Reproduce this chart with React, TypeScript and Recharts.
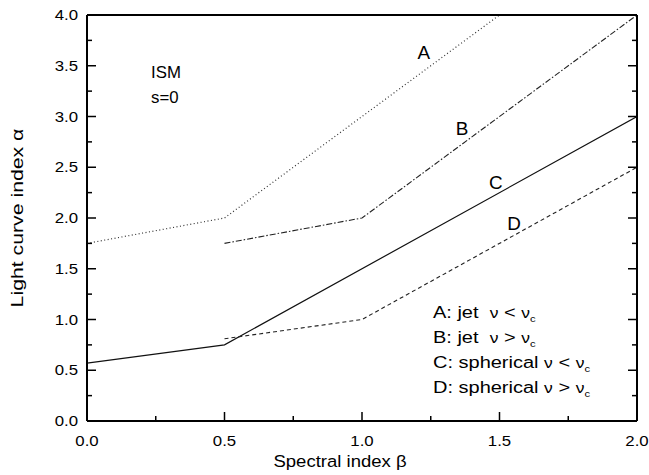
import { LineChart, Line, XAxis, YAxis, ReferenceDot } from 'recharts';

// light curve index alpha vs spectral index beta, ISM (s=0)
const betaA = [0, 0.5, 1.5];
const alphaA = [1.75, 2.0, 4.0];
const betaB = [0.5, 1.0, 2.0];
const alphaB = [1.75, 2.0, 4.0];
const betaC = [0, 0.5, 2.0];
const alphaC = [0.57, 0.75, 3.0];
const betaD = [0.5, 1.0, 2.0];
const alphaD = [0.81, 1.0, 2.5];

const xTicks = [0, 0.25, 0.5, 0.75, 1, 1.25, 1.5, 1.75, 2];
const yTicks = [0, 0.25, 0.5, 0.75, 1, 1.25, 1.5, 1.75, 2, 2.25, 2.5, 2.75, 3, 3.25, 3.5, 3.75, 4];

// curve letters, placed in data coordinates
const curveLabels = ['A', 'B', 'C', 'D'];
const curveLabelX = [1.225, 1.364, 1.487, 1.553];
const curveLabelY = [3.63, 2.88, 2.345, 1.95];

const legendPrefix = ['A: jet  ', 'B: jet  ', 'C: spherical ', 'D: spherical '];
const legendRel = ['<', '>', '<', '>'];
const legendY = [1.074, 0.828, 0.581, 0.335];
const legendX = 1.258;

const toPoints = (xs: number[], ys: number[]) => xs.map((x, i) => ({ x, y: ys[i] }));

const dataA = toPoints(betaA, alphaA);
const dataB = toPoints(betaB, alphaB);
const dataC = toPoints(betaC, alphaC);
const dataD = toPoints(betaD, alphaD);

const isMajor = (v: number) => Math.abs(v * 2 - Math.round(v * 2)) < 1e-6;
const FONT = '"Liberation Sans", Arial, Helvetica, sans-serif';

// text that is a bit wider than Arial, like the original plot
const SText = ({ x, y, sx = 1, anchor = 'start', size, rotate, children, style }: any) => (
  <text
    transform={`translate(${x} ${y})${rotate ? ` rotate(${rotate})` : ''} scale(${sx} 1)`}
    textAnchor={anchor}
    fontSize={size}
    fill="#000"
    style={style}
  >
    {children}
  </text>
);

const BottomTick = ({ x, y, payload }: any) => {
  const major = isMajor(payload.value);
  return (
    <g>
      <line x1={x} x2={x} y1={y} y2={y - (major ? 9 : 5)} stroke="#000" strokeWidth={1.5} />
      {major && (
        <SText x={x} y={y + 25} anchor="middle" size={14} sx={1.2}>
          {payload.value.toFixed(1)}
        </SText>
      )}
    </g>
  );
};

const TopTick = ({ x, y, payload }: any) => {
  const major = isMajor(payload.value);
  return <line x1={x} x2={x} y1={y} y2={y + (major ? 9 : 5)} stroke="#000" strokeWidth={1.5} />;
};

const LeftTick = ({ x, y, payload }: any) => {
  const major = isMajor(payload.value);
  return (
    <g>
      <line x1={x} x2={x + (major ? 9 : 5)} y1={y} y2={y} stroke="#000" strokeWidth={1.5} />
      {major && (
        <SText x={x - 9} y={y + 5} anchor="end" size={14} sx={1.2}>
          {payload.value.toFixed(1)}
        </SText>
      )}
    </g>
  );
};

const RightTick = ({ x, y, payload }: any) => {
  const major = isMajor(payload.value);
  return <line x1={x} x2={x - (major ? 9 : 5)} y1={y} y2={y} stroke="#000" strokeWidth={1.5} />;
};

const center = (vb: any) => ({ cx: vb.x + vb.width / 2, cy: vb.y + vb.height / 2 });

export default function App() {
  return (
    <div style={{ position: 'absolute', left: 0, top: 0, width: 649, height: 475, background: '#fff', fontFamily: FONT }}>
      <LineChart width={649} height={475} margin={{ top: 0, right: 0, bottom: 0, left: 0 }}>
        <XAxis
          xAxisId={0}
          type="number"
          dataKey="x"
          domain={[0, 2]}
          ticks={xTicks}
          height={54}
          tickSize={0}
          tickMargin={0}
          tickLine={false}
          tick={<BottomTick />}
          axisLine={{ stroke: '#000', strokeWidth: 2 }}
          interval={0}
          allowDataOverflow
          label={{
            content: ({ viewBox }: any) => (
              <SText x={viewBox.x + viewBox.width / 2 - 22} y={viewBox.y + 46} anchor="middle" size={17} sx={1.09}>
                Spectral index β
              </SText>
            ),
          }}
        />
        <XAxis
          xAxisId="top"
          orientation="top"
          type="number"
          domain={[0, 2]}
          ticks={xTicks}
          height={15}
          tickSize={0}
          tickMargin={0}
          tickLine={false}
          tick={<TopTick />}
          axisLine={{ stroke: '#000', strokeWidth: 2 }}
          interval={0}
          allowDataOverflow
        />
        <YAxis
          yAxisId={0}
          type="number"
          domain={[0, 4]}
          ticks={yTicks}
          width={87}
          tickSize={0}
          tickMargin={0}
          tickLine={false}
          tick={<LeftTick />}
          axisLine={{ stroke: '#000', strokeWidth: 2 }}
          interval={0}
          allowDataOverflow
          label={{
            content: ({ viewBox }: any) => (
              <SText x={23} y={viewBox.y + viewBox.height / 2} rotate={-90} anchor="middle" size={17} sx={1.25}>
                Light curve index α
              </SText>
            ),
          }}
        />
        <YAxis
          yAxisId="right"
          orientation="right"
          type="number"
          domain={[0, 4]}
          ticks={yTicks}
          width={12}
          tickSize={0}
          tickMargin={0}
          tickLine={false}
          tick={<RightTick />}
          axisLine={{ stroke: '#000', strokeWidth: 2 }}
          interval={0}
          allowDataOverflow
        />

        <Line data={dataA} dataKey="y" type="linear" stroke="#333" strokeWidth={1.2} strokeDasharray="1 2.5" dot={false} isAnimationActive={false} />
        <Line data={dataB} dataKey="y" type="linear" stroke="#222" strokeWidth={1.1} strokeDasharray="6 2 1.5 2" dot={false} isAnimationActive={false} />
        <Line data={dataC} dataKey="y" type="linear" stroke="#111" strokeWidth={1.2} dot={false} isAnimationActive={false} />
        <Line data={dataD} dataKey="y" type="linear" stroke="#222" strokeWidth={1.1} strokeDasharray="4 3" dot={false} isAnimationActive={false} />

        {curveLabels.map((t, i) => (
          <ReferenceDot
            key={t}
            x={curveLabelX[i]}
            y={curveLabelY[i]}
            r={1}
            fill="none"
            stroke="none"
            label={{
              content: ({ viewBox }: any) => {
                const { cx, cy } = center(viewBox);
                return (
                  <SText x={cx} y={cy + 6.5} anchor="middle" size={18} sx={1.05}>
                    {t}
                  </SText>
                );
              },
            }}
          />
        ))}

        <ReferenceDot
          x={0.233}
          y={3.44}
          r={1}
          fill="none"
          stroke="none"
          label={{
            content: ({ viewBox }: any) => {
              const { cx, cy } = center(viewBox);
              return (
                <SText x={cx} y={cy + 6} size={16} sx={1.05}>
                  <tspan x={0}>ISM</tspan>
                  <tspan x={0} dy={25}>s=0</tspan>
                </SText>
              );
            },
          }}
        />

        {legendPrefix.map((p, i) => (
          <ReferenceDot
            key={p}
            x={legendX}
            y={legendY[i]}
            r={1}
            fill="none"
            stroke="none"
            label={{
              content: ({ viewBox }: any) => {
                const { cx, cy } = center(viewBox);
                return (
                  <SText x={cx} y={cy + 6} size={16} sx={1.25} style={{ whiteSpace: 'pre' }}>
                    <tspan>{p}</tspan>
                    <tspan fontSize={14}>ν</tspan>
                    <tspan>{` ${legendRel[i]} `}</tspan>
                    <tspan fontSize={14}>ν</tspan>
                    <tspan fontSize={9} dy={4}>c</tspan>
                  </SText>
                );
              },
            }}
          />
        ))}
      </LineChart>
    </div>
  );
}
